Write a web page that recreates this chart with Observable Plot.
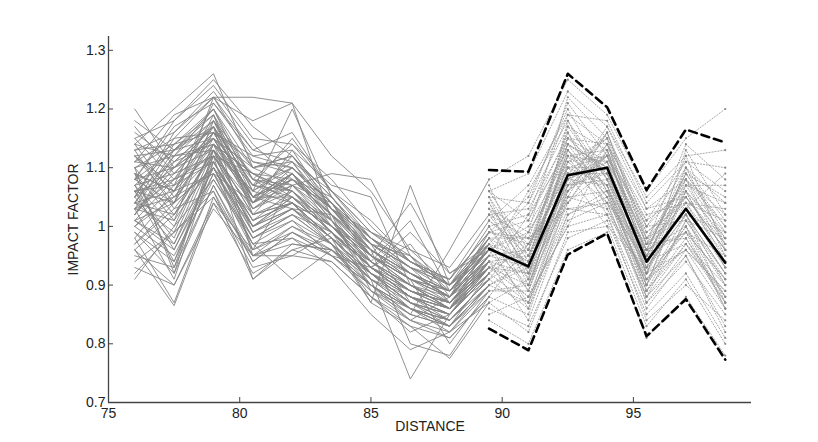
<!DOCTYPE html>
<html>
<head>
<meta charset="utf-8">
<script src="https://cdn.jsdelivr.net/npm/d3@7"></script>
<script src="https://cdn.jsdelivr.net/npm/@observablehq/plot@0.6"></script>
<style>
  html, body { margin: 0; padding: 0; background: #fff; }
  #chart svg { display: block; }
</style>
</head>
<body>
<div id="chart"></div>
<script>
// Observed distances (solid grey lines)
const histX = [76, 77.5, 79, 80.5, 82, 83.5, 85, 86.5, 88, 89.5];
// Forecast distances (dotted grey lines, mean and bounds)
const futX = [89.5, 91, 92.5, 94, 95.5, 97, 98.5];

const xTicks = [75, 80, 85, 90, 95];
const yTicks = [0.7, 0.8, 0.9, 1.0, 1.1, 1.2, 1.3];
const yTickLabels = ["0.7", "0.8", "0.9", "1", "1.1", "1.2", "1.3"];

const xLabel = "DISTANCE";
const yLabel = "IMPACT FACTOR";

// Observed impact-factor series (one row per line)
const histSeries = [
  [1.20,1.10,1.15,1.05,1.08,1.02,0.96,0.92,0.88,0.95],
  [1.14,1.20,1.26,1.10,1.12,1.03,0.98,0.93,0.90,0.97],
  [1.10,0.92,1.13,1.00,1.05,0.99,0.93,0.88,0.85,0.93],
  [0.91,1.00,1.08,0.98,1.02,0.97,0.90,0.86,0.84,0.91],
  [1.05,1.15,1.22,1.22,1.21,1.01,0.95,0.90,0.86,0.94],
  [1.08,1.13,1.18,1.06,1.20,1.05,0.97,0.95,0.89,0.96],
  [0.98,0.87,1.05,0.95,1.00,0.96,0.92,0.86,0.83,0.90],
  [1.12,1.04,1.16,1.12,1.10,1.04,0.95,0.91,0.88,0.98],
  [1.02,1.09,1.12,1.03,1.06,0.99,0.94,0.89,0.87,0.93],
  [1.07,0.96,1.10,1.02,1.05,1.00,0.93,0.90,0.86,0.95],
  [1.15,1.18,1.24,1.15,1.14,1.08,1.00,0.94,0.91,0.99],
  [0.95,0.93,1.07,0.95,0.98,0.95,0.89,0.84,0.82,0.89],
  [1.04,1.12,1.14,1.04,1.09,1.01,0.94,0.90,0.88,0.94],
  [1.09,1.01,1.18,1.08,1.04,0.98,0.92,0.87,0.85,0.92],
  [1.00,1.07,1.11,0.99,1.03,0.97,0.91,0.88,0.86,0.91],
  [1.13,1.14,1.20,1.10,1.11,1.06,0.99,0.95,0.90,1.00],
  [1.06,0.98,1.13,0.96,1.07,1.02,0.95,0.91,0.87,0.95],
  [0.93,0.90,1.04,0.92,0.96,0.94,0.88,0.83,0.81,0.88],
  [1.11,1.10,1.15,1.04,1.13,1.03,0.96,0.92,0.89,0.96],
  [1.03,1.05,1.12,1.01,1.04,1.00,0.93,0.89,0.87,0.93],
  [1.08,1.17,1.21,1.13,1.16,1.06,0.98,0.94,0.90,0.98],
  [0.99,0.94,1.09,0.97,1.01,0.97,0.91,0.87,0.84,0.91],
  [1.14,1.05,1.14,1.09,1.08,1.02,0.95,0.91,0.88,0.95],
  [1.05,1.10,1.17,1.07,1.06,1.00,0.94,0.89,0.87,0.94],
  [1.01,0.97,1.10,0.99,1.02,0.99,0.93,0.88,0.86,0.92],
  [1.10,1.14,1.19,1.05,1.12,1.04,0.97,0.93,0.89,0.97],
  [0.97,1.03,1.06,0.94,0.99,0.96,0.90,0.85,0.83,0.90],
  [1.07,1.09,1.16,1.11,1.09,1.03,0.96,0.92,0.88,0.96],
  [1.16,1.11,1.17,1.07,1.10,1.04,0.98,0.93,0.90,0.98],
  [1.03,0.91,1.11,1.00,1.04,0.98,0.92,0.88,0.85,0.92],
  [1.06,1.08,1.15,1.03,1.07,1.09,1.08,0.95,0.87,0.93],
  [1.02,1.12,1.13,1.06,1.04,0.98,0.87,1.07,0.90,0.96],
  [1.09,1.06,1.19,1.02,1.09,1.01,0.91,0.74,0.85,0.94],
  [1.11,1.15,1.16,1.09,1.06,1.00,0.96,0.80,0.78,0.88],
  [1.04,0.99,1.14,1.05,1.03,1.02,0.89,0.85,0.96,1.08],
  [0.96,1.02,1.10,0.98,1.01,0.95,0.93,0.99,0.92,0.96],
  [1.12,1.07,1.21,1.12,1.13,1.07,1.05,0.90,0.86,0.97],
  [1.00,0.95,1.08,0.97,0.98,0.93,0.85,0.79,0.82,0.87],
  [1.07,1.13,1.17,1.04,1.10,1.03,0.99,0.96,0.93,1.02],
  [1.13,1.03,1.12,1.09,1.05,1.01,0.92,0.88,0.84,0.90],
  [0.98,1.06,1.09,1.00,1.03,0.98,0.94,1.01,0.89,0.94],
  [1.05,1.16,1.23,1.14,1.08,1.05,0.97,0.87,0.83,0.92],
  [1.09,0.93,1.12,1.01,1.06,0.99,0.90,0.84,0.88,0.99],
  [1.02,1.11,1.14,1.07,1.15,1.06,1.01,0.94,0.90,0.95],
  [1.15,1.08,1.18,1.04,1.09,1.00,0.95,0.91,0.80,0.89],
  [0.94,0.99,1.06,0.91,0.97,0.96,0.89,0.86,0.82,0.90],
  [1.10,1.12,1.20,1.06,1.11,1.02,0.97,0.93,0.91,1.01],
  [1.06,1.04,1.15,1.10,1.07,1.04,0.94,0.89,0.86,0.93],
  [1.01,0.96,1.09,0.96,1.00,0.97,0.88,0.82,0.85,0.92],
  [1.08,1.18,1.25,1.17,1.12,1.05,0.98,0.92,0.89,0.97],
  [1.17,1.09,1.16,1.05,1.08,1.03,0.95,0.90,0.87,0.95],
  [1.03,1.01,1.11,1.00,1.05,0.99,0.93,0.97,0.88,0.93],
  [1.12,1.13,1.19,1.08,1.14,1.06,0.99,0.94,0.91,0.99],
  [0.99,0.92,1.07,0.94,0.99,0.95,0.90,0.86,0.84,0.91],
  [1.06,1.07,1.14,1.09,1.06,1.01,0.95,1.04,0.92,0.97],
  [1.04,1.14,1.16,1.05,1.09,1.02,0.93,0.88,0.85,0.92],
  [1.10,1.02,1.13,1.02,1.04,0.98,0.91,0.86,0.83,0.90],
  [0.97,1.04,1.10,0.98,1.02,0.97,0.92,0.89,0.87,0.94],
  [1.13,1.16,1.22,1.11,1.10,1.04,0.96,0.91,0.88,0.96],
  [1.05,0.97,1.12,1.04,1.07,1.01,0.94,0.90,0.86,0.94],
  [1.08,1.10,1.17,1.07,1.05,0.99,0.92,0.87,0.84,0.91],
  [1.01,1.08,1.11,1.01,1.04,1.00,0.95,0.92,0.89,0.96],
  [1.14,1.12,1.18,1.10,1.12,1.05,0.97,0.93,0.87,0.93],
  [1.07,1.00,1.14,0.99,1.03,0.99,0.93,0.88,0.86,0.92],
  [1.00,1.05,1.09,1.04,1.08,1.02,0.96,0.91,0.89,0.98],
  [1.11,1.19,1.22,1.13,1.11,1.03,0.97,0.92,0.88,0.95],
  [1.04,1.02,1.13,1.06,1.10,1.04,0.98,0.94,0.90,0.97],
  [1.18,1.13,1.20,1.08,1.07,1.00,0.93,0.89,0.86,0.93],
  [0.92,0.99,1.05,0.93,0.95,0.94,0.88,0.84,0.81,0.88],
  [1.09,1.06,1.16,1.05,1.09,1.03,0.96,0.92,0.88,0.96],
  [1.03,1.13,1.15,1.08,1.06,1.00,0.94,0.90,0.87,0.94],
  [1.06,0.94,1.11,1.00,1.03,0.98,0.92,0.87,0.85,0.93],
  [1.12,1.06,1.17,1.03,1.08,1.03,0.95,0.91,0.89,0.97],
  [1.02,1.10,1.13,1.05,1.05,0.99,0.93,0.89,0.86,0.93],
  [1.08,1.04,1.22,1.18,1.21,1.12,1.06,0.96,0.90,0.96],
  [0.96,0.90,1.03,0.95,0.97,0.96,0.91,0.86,0.83,0.89],
  [0.96,0.865,1.04,0.96,0.99,0.95,0.90,0.85,0.83,0.90],
  [1.03,1.08,1.12,0.91,0.96,0.98,0.92,0.87,0.85,0.92],
  [1.06,1.11,1.17,0.95,0.95,0.99,0.93,0.88,0.86,0.93],
  [1.01,1.04,1.10,0.97,0.91,0.96,0.90,0.86,0.84,0.91],
  [1.04,1.06,1.13,1.02,1.04,0.97,0.87,0.83,0.775,0.87]
];

// Forecast ensemble series (dotted)
const futSeries = [
  [0.96,0.93,1.09,1.10,0.94,1.03,0.94],
  [1.08,1.12,1.25,1.19,1.06,1.15,1.20],
  [0.84,0.80,0.96,0.99,0.81,0.88,0.78],
  [1.02,0.98,1.15,1.14,0.98,1.08,1.00],
  [0.90,0.87,1.02,1.05,0.89,0.97,0.88],
  [0.99,1.05,1.20,1.08,0.92,1.10,1.04],
  [0.93,0.90,1.05,1.16,0.97,1.02,0.90],
  [1.05,0.95,1.12,1.02,0.86,0.95,0.83],
  [0.88,0.97,1.08,1.12,1.01,1.06,0.99],
  [1.00,0.91,1.18,1.06,0.95,1.12,0.96],
  [0.94,0.88,1.00,1.13,0.92,0.99,0.91],
  [1.06,1.01,1.14,1.09,0.90,1.07,1.07],
  [0.91,0.95,1.10,1.04,0.96,1.00,0.86],
  [0.97,0.86,1.06,1.11,0.99,1.04,0.95],
  [1.03,0.99,1.22,1.15,0.93,1.13,1.02],
  [0.86,0.83,0.98,1.01,0.85,0.92,0.81],
  [0.98,0.94,1.07,1.17,1.03,1.05,0.97],
  [0.92,1.02,1.13,1.07,0.88,1.01,0.92],
  [1.07,0.92,1.04,1.10,0.96,1.09,1.05],
  [0.95,0.96,1.16,1.03,0.91,0.96,0.89],
  [0.89,0.89,1.11,1.12,0.97,1.08,0.98],
  [1.01,1.07,1.19,1.18,1.04,1.11,1.10],
  [0.94,0.84,1.02,1.06,0.87,0.94,0.85],
  [0.99,0.97,1.09,1.00,0.93,1.03,0.93],
  [0.87,0.91,1.06,1.14,0.95,1.05,0.96],
  [1.04,0.94,1.17,1.08,0.89,0.98,0.87],
  [0.96,1.00,1.12,1.13,1.00,1.10,1.01],
  [0.92,0.87,1.03,1.04,0.94,0.97,0.90],
  [1.02,1.03,1.15,1.11,0.92,1.06,0.94],
  [0.97,0.90,1.08,1.16,0.98,1.02,0.99],
  [0.85,0.88,1.00,1.02,0.84,0.90,0.84],
  [1.05,1.04,1.21,1.12,0.97,1.14,1.08],
  [0.93,0.96,1.10,1.07,0.90,1.00,0.88],
  [1.00,0.89,1.07,1.09,0.95,1.07,0.97],
  [0.90,0.93,1.13,1.05,0.93,1.02,0.92],
  [0.98,0.98,1.04,1.14,1.02,1.04,1.03],
  [1.04,0.92,1.14,1.10,0.91,0.99,0.86],
  [0.95,1.06,1.18,1.08,0.96,1.09,1.00],
  [0.88,0.85,1.05,1.03,0.88,0.95,0.82],
  [1.01,0.95,1.11,1.15,0.99,1.05,0.96],
  [0.94,0.92,1.08,1.11,0.94,1.03,0.94],
  [1.06,1.09,1.23,1.17,1.05,1.12,1.13],
  [0.91,0.86,1.01,1.04,0.87,0.96,0.89],
  [0.97,0.94,1.12,1.07,0.92,1.08,0.95],
  [1.03,0.97,1.06,1.12,1.00,1.01,0.98],
  [0.89,0.90,1.09,1.09,0.95,0.99,0.91],
  [0.99,1.01,1.16,1.06,0.90,1.06,0.93],
  [0.93,0.88,1.04,1.13,0.97,1.04,1.01],
  [1.02,0.93,1.13,1.04,0.88,0.97,0.87],
  [0.96,0.99,1.10,1.10,0.96,1.10,0.97],
  [0.87,0.82,0.99,1.00,0.83,0.91,0.80],
  [1.00,1.02,1.19,1.14,1.01,1.11,1.06],
  [0.94,0.95,1.07,1.08,0.93,1.02,0.92],
  [1.05,0.91,1.10,1.12,0.95,1.06,0.98],
  [0.92,0.97,1.14,1.05,0.91,1.00,0.90],
  [0.98,0.89,1.06,1.16,1.00,1.07,1.04],
  [1.01,0.96,1.15,1.09,0.92,1.04,0.93],
  [0.90,0.94,1.05,1.06,0.97,0.98,0.88],
  [0.97,1.04,1.17,1.13,0.94,1.09,0.99],
  [1.03,0.90,1.08,1.07,0.89,1.01,0.91],
  [0.95,0.93,1.12,1.11,0.98,1.05,0.96],
  [0.99,0.98,1.03,1.02,0.92,0.96,0.86],
  [0.93,0.92,1.09,1.15,1.03,1.08,1.02],
  [1.06,0.96,1.14,1.10,0.94,1.03,1.09],
  [0.91,0.99,1.11,1.06,0.90,1.02,0.87],
  [0.96,0.87,1.07,1.12,0.96,0.99,0.95]
];

// Mean forecast and bounds
const meanValues  = [0.962, 0.932, 1.087, 1.100, 0.940, 1.030, 0.938];
const upperValues = [1.096, 1.093, 1.260, 1.203, 1.062, 1.165, 1.143];
const lowerValues = [0.826, 0.789, 0.952, 0.988, 0.813, 0.876, 0.773];

// Build tables
const histData = histSeries.flatMap((row, i) => row.map((v, j) => ({id: i, x: histX[j], y: v})));
const futData = futSeries.flatMap((row, i) => row.map((v, j) => ({id: i, x: futX[j], y: v})));
const meanData = futX.map((x, j) => ({x, y: meanValues[j]}));
const upperData = futX.map((x, j) => ({x, y: upperValues[j]}));
const lowerData = futX.map((x, j) => ({x, y: lowerValues[j]}));

const font = "'Liberation Sans', Arial, Helvetica, sans-serif";

const chart = Plot.plot({
  width: 818,
  height: 442,
  marginLeft: 108,
  marginRight: 67,
  marginTop: 36,
  marginBottom: 40,
  style: {fontFamily: font, fontSize: "13.5px", color: "#222", background: "#fff"},
  x: {domain: [75, 99.5]},
  y: {domain: [0.7, 1.3235]},
  marks: [
    Plot.line(futData, {x: "x", y: "y", z: "id", stroke: "#979797", strokeWidth: 0.85, strokeDasharray: "1.2,1.8"}),
    Plot.dot(futData, {x: "x", y: "y", r: 1.1, fill: "#8a8a8a", stroke: null}),
    Plot.line(histData, {x: "x", y: "y", z: "id", stroke: "#858585", strokeWidth: 0.9}),
    Plot.line(upperData, {x: "x", y: "y", stroke: "#000", strokeWidth: 2.6, strokeDasharray: "8,5"}),
    Plot.line(lowerData, {x: "x", y: "y", stroke: "#000", strokeWidth: 2.6, strokeDasharray: "8,5"}),
    Plot.line(meanData, {x: "x", y: "y", stroke: "#000", strokeWidth: 2.6}),
    Plot.axisX({ticks: xTicks, tickSize: -5, tickPadding: 11, fontSize: 14, tickFormat: d => String(d), label: null, stroke: "#444", fill: "#222"}),
    Plot.axisY({ticks: yTicks, tickSize: -5, tickPadding: 8, fontSize: 14, tickFormat: (d, i) => yTickLabels[i], label: null, stroke: "#444", fill: "#222"}),
    Plot.ruleY([0.7], {stroke: "#444", strokeWidth: 1.3}),
    Plot.ruleX([75], {stroke: "#444", strokeWidth: 1.3}),
    Plot.text([xLabel], {frameAnchor: "bottom", dy: 28, fontSize: 14, fill: "#222", text: d => d}),
    Plot.text([yLabel], {frameAnchor: "left", dx: -35, rotate: -90, textAnchor: "middle", fontSize: 14, fill: "#222", text: d => d})
  ]
});

document.getElementById("chart").appendChild(chart);
</script>
</body>
</html>
